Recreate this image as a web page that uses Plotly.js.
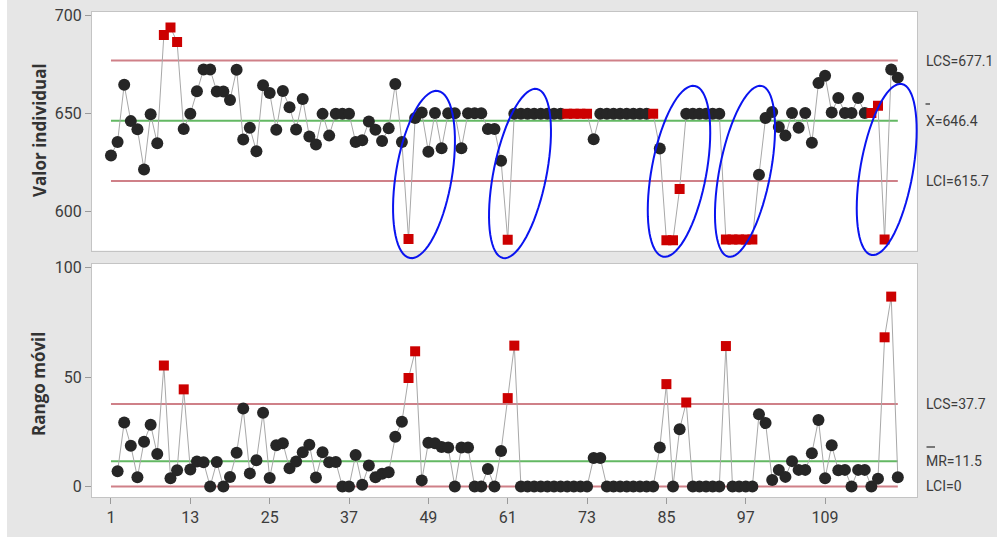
<!DOCTYPE html>
<html>
<head>
<meta charset="utf-8">
<script src="https://cdn.plot.ly/plotly-3.0.1.min.js"></script>
<style>
  html, body { margin: 0; padding: 0; background: #e6e6e6; }
  #chart { width: 997px; height: 537px; }
</style>
</head>
<body>
<div id="chart"></div>
<script>
// ---------------- data ----------------
const individual = [
  628.6, 635.6, 664.8, 646.2, 642.0, 621.5, 649.7, 634.9, 690.2, 694.0,
  686.6, 642.2, 650.0, 661.4, 672.5, 672.5, 661.3, 661.3, 657.0, 672.4,
  636.8, 642.8, 630.8, 664.5, 660.6, 641.8, 661.6, 653.3, 641.9, 657.5,
  638.4, 634.3, 649.9, 638.8, 650.0, 650.0, 650.0, 635.6, 636.4, 646.0,
  641.8, 636.0, 642.5, 665.2, 635.6, 586.0, 647.8, 650.6, 630.6, 650.4,
  632.4, 650.2, 650.2, 632.4, 650.2, 650.2, 650.2, 642.2, 642.2, 626.0,
  585.6, 650.0, 650.0, 650.0, 650.0, 650.0, 650.0, 650.0, 650.0, 650.0,
  650.0, 650.0, 650.0, 637.0, 650.0, 650.0, 650.0, 650.0, 650.0, 650.0,
  650.0, 650.0, 650.0, 632.2, 585.4, 585.4, 611.6, 650.0, 650.0, 650.0,
  650.0, 650.0, 650.0, 585.8, 585.8, 585.8, 585.8, 585.8, 618.8, 647.8,
  650.8, 643.2, 638.8, 650.4, 642.8, 650.4, 635.2, 665.6, 669.4, 650.6,
  658.0, 650.4, 650.4, 658.0, 650.4, 650.4, 654.0, 585.8, 672.6, 668.4
];
const movingRange = [
  null, 7.0, 29.2, 18.6, 4.2, 20.5, 28.2, 14.8, 55.3, 3.8,
  7.4, 44.4, 7.8, 11.4, 11.1, 0, 11.2, 0, 4.3, 15.4,
  35.6, 6.0, 12.0, 33.7, 3.9, 18.8, 19.8, 8.3, 11.4, 15.6,
  19.1, 4.1, 15.6, 11.1, 11.2, 0, 0, 14.4, 0.8, 9.6,
  4.2, 5.8, 6.5, 22.7, 29.6, 49.6, 61.8, 2.8, 20.0, 19.8,
  18.0, 17.8, 0, 17.8, 17.8, 0, 0, 8.0, 0, 16.2,
  40.4, 64.4, 0, 0, 0, 0, 0, 0, 0, 0,
  0, 0, 0, 13.0, 13.0, 0, 0, 0, 0, 0,
  0, 0, 0, 17.8, 46.8, 0, 26.2, 38.4, 0, 0,
  0, 0, 0, 64.2, 0, 0, 0, 0, 33.0, 29.0,
  3.0, 7.6, 4.4, 11.6, 7.6, 7.6, 15.2, 30.4, 3.8, 18.8,
  7.4, 7.6, 0, 7.6, 7.6, 0, 3.6, 68.2, 86.8, 4.2
];
const individualFlagged = [9, 10, 11, 46, 61, 70, 71, 72, 73, 83, 85, 86, 87, 94, 95, 96, 97, 98, 116, 117, 118];
const rangeFlagged = [9, 12, 46, 47, 61, 62, 85, 88, 94, 118, 119];

const indLimits = { ucl: 677.1, cl: 646.4, lcl: 615.7 };
const mrLimits = { ucl: 37.7, cl: 11.5, lcl: 0 };
const indLabels = ["LCS=677.1", "X=646.4", "LCI=615.7"];
const mrLabels = ["LCS=37.7", "MR=11.5", "LCI=0"];

const xTickVals = [1, 13, 25, 37, 49, 61, 73, 85, 97, 109];
const xTickText = ["1", "13", "25", "37", "49", "61", "73", "85", "97", "109"];
const indTickVals = [600, 650, 700];
const mrTickVals = [0, 50, 100];

// ---------------- styling ----------------
const obs = individual.map((_, i) => i + 1);
const BLACK = "#262626", RED = "#cc0000";
const LIMIT = "#cf8088", CENTER = "#63b863", CONNECT = "#a8a8a8";
const TXT = "#3c3c3c";
const FONT = "Liberation Sans Narrow, Roboto, Arial, sans-serif";

function markerStyle(flags) {
  const set = new Set(flags);
  return {
    color: obs.map(n => set.has(n) ? RED : BLACK),
    symbol: obs.map(n => set.has(n) ? "square" : "circle"),
    size: obs.map(n => set.has(n) ? 10 : 12),
    opacity: 1,
    line: { width: 0 }
  };
}
function hline(y, color, xa, ya) {
  return { x: [obs[0], obs[obs.length - 1]], y: [y, y], mode: "lines", xaxis: xa, yaxis: ya,
           line: { color: color, width: 2 }, hoverinfo: "skip", showlegend: false };
}

const traces = [
  hline(indLimits.ucl, LIMIT, "x", "y"),
  hline(indLimits.lcl, LIMIT, "x", "y"),
  hline(indLimits.cl, CENTER, "x", "y"),
  hline(mrLimits.ucl, LIMIT, "x2", "y2"),
  hline(mrLimits.lcl, LIMIT, "x2", "y2"),
  hline(mrLimits.cl, CENTER, "x2", "y2"),
  { x: obs, y: individual, mode: "lines+markers", xaxis: "x", yaxis: "y", opacity: 1,
    line: { color: CONNECT, width: 1 }, marker: markerStyle(individualFlagged), showlegend: false },
  { x: obs, y: movingRange, mode: "lines+markers", xaxis: "x2", yaxis: "y2", opacity: 1,
    line: { color: CONNECT, width: 1 }, marker: markerStyle(rangeFlagged), showlegend: false, connectgaps: false }
];

// pixel geometry helpers (plot area: x 92..917, y 12..497)
const PL = 92, PW = 825, PB = 497, PH = 485;
const px = sx => (sx - PL) / PW;
const py = sy => (PB - sy) / PH;

function ellipsePath(cx, cy, a, b, thetaDeg) {
  const th = thetaDeg * Math.PI / 180;
  const d = [Math.sin(th), -Math.cos(th)];
  const p = [Math.cos(th), Math.sin(th)];
  let s = "";
  const N = 72;
  for (let k = 0; k <= N; k++) {
    const t = 2 * Math.PI * k / N;
    const u = b * Math.cos(t), v = a * Math.sin(t);
    const X = cx + u * p[0] + v * d[0];
    const Y = cy + u * p[1] + v * d[1];
    s += (k === 0 ? "M" : "L") + px(X).toFixed(5) + "," + py(Y).toFixed(5);
  }
  return s + "Z";
}
const ellipses = [
  [424, 174.5, 84.7, 28, 9.5],
  [520, 173.5, 86.2, 26.4, 11.4],
  [679, 171.3, 86.8, 27.4, 10.5],
  [745, 171.3, 87, 25.5, 11],
  [886.7, 169.5, 86.8, 26.3, 10]
];
const shapes = ellipses.map(e => ({
  type: "path", xref: "paper", yref: "paper", path: ellipsePath(...e),
  line: { color: "#0a14f0", width: 2 }, fillcolor: "rgba(0,0,0,0)", layer: "above"
}));
// white left strip of the original image
shapes.push({ type: "rect", xref: "paper", yref: "paper", x0: px(0), x1: px(7), y0: py(537), y1: py(0),
  fillcolor: "#ffffff", line: { width: 0 }, layer: "below" });
// overbars for X and MR labels
shapes.push({ type: "line", xref: "paper", yref: "paper", x0: px(925.5), x1: px(930), y0: py(104), y1: py(104),
  line: { color: TXT, width: 1.3 } });
shapes.push({ type: "line", xref: "paper", yref: "paper", x0: px(926.5), x1: px(935), y0: py(447), y1: py(447),
  line: { color: TXT, width: 1.3 } });

function rightLabel(text, y, yref) {
  return { text: text, xref: "paper", yref: yref, x: px(924), y: y, xanchor: "left", yanchor: "middle",
           showarrow: false, font: { family: FONT, size: 14, color: TXT } };
}
const annotations = [
  rightLabel(indLabels[0], indLimits.ucl, "y"),
  rightLabel(indLabels[1], indLimits.cl, "y"),
  rightLabel(indLabels[2], indLimits.lcl, "y"),
  rightLabel(mrLabels[0], mrLimits.ucl, "y2"),
  rightLabel(mrLabels[1], mrLimits.cl, "y2"),
  rightLabel(mrLabels[2], mrLimits.lcl, "y2"),
  { text: "<b>Valor individual</b>", xref: "paper", yref: "paper", x: px(39), y: py(130), textangle: -90,
    showarrow: false, xanchor: "center", yanchor: "middle", font: { family: "Open Sans, Arial, sans-serif", size: 17, color: "#333" } },
  { text: "<b>Rango móvil</b>", xref: "paper", yref: "paper", x: px(39), y: py(384), textangle: -90,
    showarrow: false, xanchor: "center", yanchor: "middle", font: { family: "Open Sans, Arial, sans-serif", size: 17, color: "#333" } }
];

const xRange = [-1.87, 122.9];
const axisCommon = { showgrid: false, zeroline: false, showline: true, mirror: true, linecolor: "#c4c4c4", linewidth: 1,
  tickfont: { family: FONT, size: 16, color: TXT }, tickcolor: "#9a9a9a", ticklen: 6, tickwidth: 1 };

const layout = {
  width: 997, height: 537,
  margin: { l: 92, r: 80, t: 12, b: 40 },
  paper_bgcolor: "#e6e6e6", plot_bgcolor: "#ffffff",
  showlegend: false,
  xaxis: Object.assign({}, axisCommon, { domain: [0, 1], anchor: "y", range: xRange, showticklabels: false, ticks: "" }),
  yaxis: Object.assign({}, axisCommon, { domain: [0.508, 1], anchor: "x", range: [580.1, 701.9], tickvals: indTickVals, ticks: "outside" }),
  xaxis2: Object.assign({}, axisCommon, { domain: [0, 1], anchor: "y2", range: xRange, tickvals: xTickVals, ticktext: xTickText, ticks: "outside" }),
  yaxis2: Object.assign({}, axisCommon, { domain: [0, 0.4804], anchor: "x2", range: [-4.8, 101.7], tickvals: mrTickVals, ticks: "outside" }),
  shapes: shapes,
  annotations: annotations
};

Plotly.newPlot("chart", traces, layout, { staticPlot: true, displayModeBar: false });
</script>
</body>
</html>
